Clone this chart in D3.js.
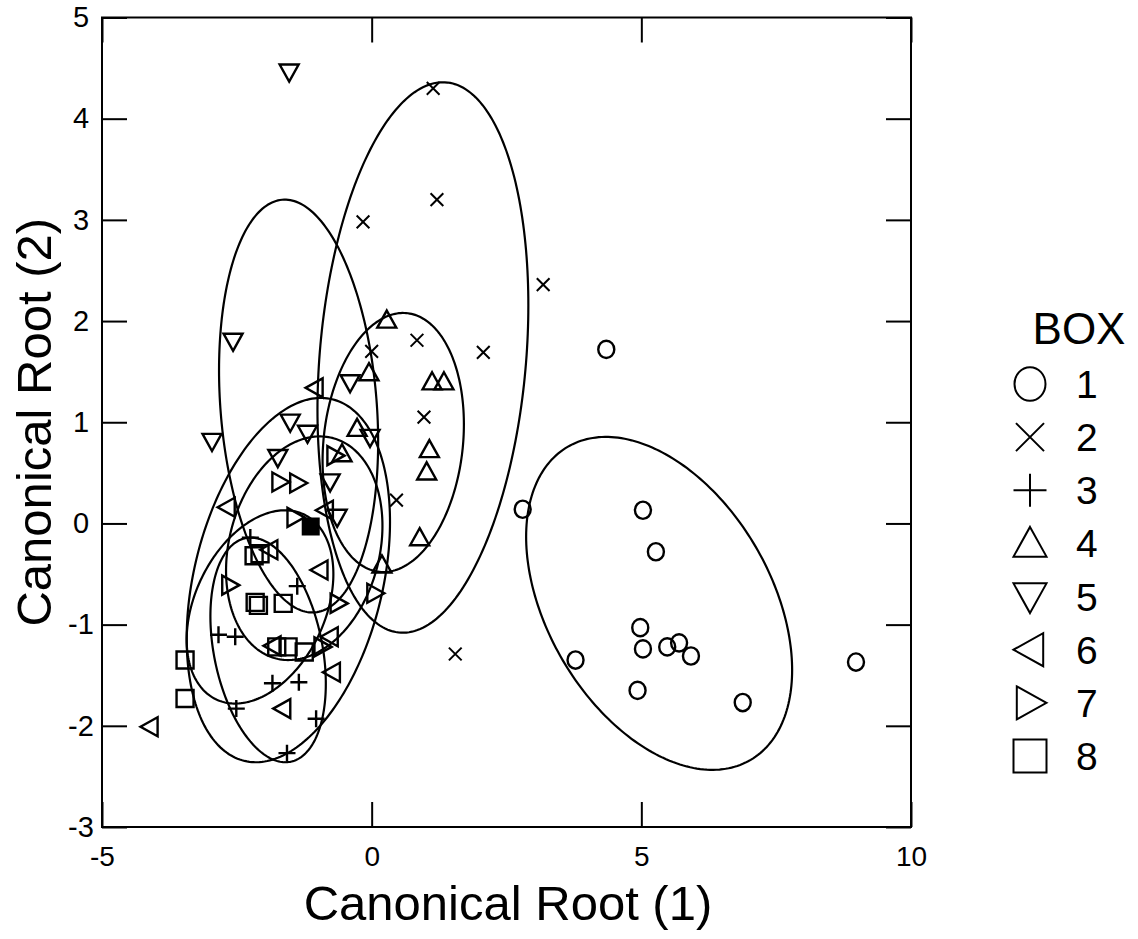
<!DOCTYPE html>
<html lang="en">
<head>
<meta charset="UTF-8">
<title>Canonical roots by box</title>
<style>
  body { margin: 0; background: #fff; }
  text { font-family: "Liberation Sans", Arial, Helvetica, sans-serif; fill: #000; }
  .frame { fill: none; stroke: #000; stroke-width: 2px; }
  .tick line { stroke: #000; stroke-width: 2px; }
  .ell { fill: none; stroke: #000; stroke-width: 2.2px; }
  .mark { fill: none; stroke: #000; stroke-width: 2.4px; }
  .dense { fill: #000; stroke: #000; stroke-width: 2px; }
</style>
</head>
<body>
<div id="chart"></div>
<script src="https://d3js.org/d3.v7.min.js"></script>
<script>
// points, one array per box  [root1, root2]
var box1 = [[4.35,1.72],[2.80,0.14],[5.03,0.13],[5.27,-0.28],[4.98,-1.03],[5.03,-1.24],[5.48,-1.22],
            [5.70,-1.18],[5.92,-1.31],[3.78,-1.35],[4.93,-1.65],[6.88,-1.77],[8.98,-1.37]];
var box2 = [[1.14,4.30],[1.21,3.20],[-0.16,2.98],[3.18,2.36],[0.84,1.81],[2.07,1.69],[0.00,1.70],
            [0.97,1.05],[0.46,0.23],[1.55,-1.29]];
var box3 = [[-2.25,-0.14],[-1.38,-0.62],[-2.84,-1.10],[-2.53,-1.12],[-1.84,-1.58],[-1.35,-1.57],
            [-2.51,-1.83],[-1.03,-1.93],[-1.57,-2.27]];
var box4 = [[0.28,2.01],[-0.05,1.49],[1.12,1.40],[1.34,1.40],[1.07,0.73],[1.02,0.51],[0.89,-0.14],
            [-0.27,0.94],[-0.55,0.69],[0.19,-0.41]];
var box5 = [[-1.53,4.46],[-2.57,1.80],[-2.96,0.81],[-0.40,1.39],[-1.51,1.00],[-1.19,0.89],[-1.74,0.65],
            [-0.77,0.41],[-0.64,0.06],[-0.03,0.85]];
var box6 = [[-1.05,1.34],[-2.68,0.16],[-0.86,0.13],[-1.89,-0.26],[-0.96,-0.46],[-0.77,-1.12],
            [-0.73,-1.47],[-1.65,-1.83],[-4.11,-2.01],[-1.83,-1.21]];
var box7 = [[-1.70,0.41],[-1.37,0.40],[-0.68,0.67],[-1.42,0.06],[-2.63,-0.61],[-0.62,-0.79],
            [-0.92,-1.22],[0.06,-0.69]];
var box8 = [[-2.18,-0.32],[-2.07,-0.30],[-2.16,-0.78],[-2.10,-0.81],[-1.64,-0.79],[-3.46,-1.35],
            [-3.46,-1.73],[-1.76,-1.22],[-1.55,-1.22],[-1.25,-1.27]];
// several boxes stacked on one spot, drawn as a solid block in the original
var stacked = [[-1.13,-0.03]];

// ellipses: centre, half width, half height, correlation (box 1..8)
var ellCx = [5.33, 0.95, -1.92, 0.40, -1.355, -1.545, -1.25, -2.07];
var ellCy = [-0.79, 1.64, -1.25, 0.80, 1.16, -0.56, -0.245, -0.825];
var ellSx = [2.466, 1.955, 1.07, 1.31, 1.475, 1.885, 1.45, 1.36];
var ellSy = [1.645, 2.72, 1.11, 1.28, 2.04, 1.80, 1.105, 0.955];
var ellR  = [-0.40, 0.19, -0.30, 0.14, -0.173, 0.32, 0.20, 0.34];

var boxes = ["1","2","3","4","5","6","7","8"];
var shapes = ["circle","x","plus","up","down","left","right","square"];
var xTicks = [-5, 0, 5, 10];
var yTicks = [-3, -2, -1, 0, 1, 2, 3, 4, 5];

var width = 1138, height = 939;
var plot = {left: 102, right: 911, top: 17.5, bottom: 827};

var svg = d3.select("#chart").append("svg")
    .attr("width", width)
    .attr("height", height);

var x = d3.scaleLinear().domain([-5, 10]).range([plot.left, plot.right]);
var y = d3.scaleLinear().domain([-3, 5]).range([plot.bottom, plot.top]);

// marker paths, s = overall size in px
function markerPath(shape, s) {
  var h = s / 2;
  switch (shape) {
    case "circle":
      return "M" + h + ",0A" + h + "," + (h * 1.08) + " 0 1,1 " + (-h) + ",0A" + h + "," + (h * 1.08) + " 0 1,1 " + h + ",0Z";
    case "x":
      var k = h * 0.85;
      return "M" + (-k) + "," + (-k) + "L" + k + "," + k + "M" + (-k) + "," + k + "L" + k + "," + (-k);
    case "plus":
      return "M" + (-h) + ",0L" + h + ",0M0," + (-h) + "L0," + h;
    case "up":
      return "M0," + (-h) + "L" + h + "," + (h * 0.8) + "L" + (-h) + "," + (h * 0.8) + "Z";
    case "down":
      return "M0," + h + "L" + h + "," + (-h * 0.8) + "L" + (-h) + "," + (-h * 0.8) + "Z";
    case "left":
      return "M" + (-h) + ",0L" + (h * 0.8) + "," + (-h) + "L" + (h * 0.8) + "," + h + "Z";
    case "right":
      return "M" + h + ",0L" + (-h * 0.8) + "," + (-h) + "L" + (-h * 0.8) + "," + h + "Z";
    case "square":
      return "M" + (-h) + "," + (-h) + "H" + h + "V" + h + "H" + (-h) + "Z";
  }
}
var markSize = {circle: 16, x: 15, plus: 17, up: 19, down: 19, left: 19, right: 19, square: 17};

// ellipses
var line = d3.line()
    .x(function(d) { return x(d[0]); })
    .y(function(d) { return y(d[1]); })
    .curve(d3.curveLinearClosed);

function ellipsePoints(i) {
  var pts = [];
  var q = Math.sqrt(1 - ellR[i] * ellR[i]);
  for (var k = 0; k < 240; k++) {
    var t = k / 240 * 2 * Math.PI;
    pts.push([ellCx[i] + ellSx[i] * Math.cos(t),
              ellCy[i] + ellSy[i] * (ellR[i] * Math.cos(t) + q * Math.sin(t))]);
  }
  return pts;
}

svg.append("g").selectAll("path")
    .data(d3.range(boxes.length))
    .enter().append("path")
    .attr("class", "ell")
    .attr("d", function(i) { return line(ellipsePoints(i)); });

// points
var groups = [box1, box2, box3, box4, box5, box6, box7, box8];
groups.forEach(function(pts, gi) {
  svg.append("g").selectAll("path")
      .data(pts)
      .enter().append("path")
      .attr("class", "mark")
      .style("stroke-width", shapes[gi] === "x" ? "2px" : null)
      .attr("transform", function(d) { return "translate(" + x(d[0]) + "," + y(d[1]) + ")"; })
      .attr("d", markerPath(shapes[gi], markSize[shapes[gi]]));
});

svg.append("g").selectAll("path")
    .data(stacked)
    .enter().append("path")
    .attr("class", "dense")
    .attr("transform", function(d) { return "translate(" + x(d[0]) + "," + y(d[1]) + ")"; })
    .attr("d", markerPath("square", 16));

// axes: inward ticks on all four sides
var fmt = function(d) { return String(d); };
var tick = 25;

svg.append("g")
    .attr("transform", "translate(" + plot.left + ",0)")
    .call(d3.axisLeft(y).tickValues(yTicks).tickSize(-tick).tickPadding(21).tickFormat(fmt))
    .call(function(g) { g.select(".domain").remove(); })
    .selectAll("text")
    .attr("text-anchor", "middle")
    .style("font-size", "29px");

svg.append("g")
    .attr("transform", "translate(" + plot.right + ",0)")
    .call(d3.axisRight(y).tickValues(yTicks).tickSize(-tick).tickFormat(""))
    .call(function(g) { g.select(".domain").remove(); });

svg.append("g")
    .attr("transform", "translate(0," + plot.bottom + ")")
    .call(d3.axisBottom(x).tickValues(xTicks).tickSize(-tick).tickPadding(19).tickFormat(fmt))
    .call(function(g) { g.select(".domain").remove(); })
    .selectAll("text").style("font-size", "28px");

svg.append("g")
    .attr("transform", "translate(0," + plot.top + ")")
    .call(d3.axisTop(x).tickValues(xTicks).tickSize(-tick).tickFormat(""))
    .call(function(g) { g.select(".domain").remove(); });

svg.append("rect")
    .attr("class", "frame")
    .attr("x", plot.left).attr("y", plot.top)
    .attr("width", plot.right - plot.left)
    .attr("height", plot.bottom - plot.top);

// axis titles
svg.append("text")
    .attr("x", 508)
    .attr("y", 920)
    .attr("text-anchor", "middle")
    .style("font-size", "49px")
    .text("Canonical Root (1)");

svg.append("text")
    .attr("transform", "translate(51," + (plot.top + plot.bottom) / 2 + ") rotate(-90)")
    .attr("text-anchor", "middle")
    .style("font-size", "49px")
    .text("Canonical Root (2)");

// legend
var legend = svg.append("g");
legend.append("text")
    .attr("x", 1079).attr("y", 344)
    .attr("text-anchor", "middle")
    .style("font-size", "44px")
    .text("BOX");

var rowY = d3.scalePoint().domain(boxes).range([384, 756]);
var item = legend.selectAll(".item")
    .data(boxes)
    .enter().append("g")
    .attr("class", "item")
    .attr("transform", function(d) { return "translate(0," + rowY(d) + ")"; });

item.append("path")
    .attr("class", "mark")
    .style("stroke-width", "2px")
    .attr("transform", "translate(1030,0)")
    .attr("d", function(d, i) { return markerPath(shapes[i], i === 0 ? 31 : 33); });

item.append("text")
    .attr("x", 1076)
    .attr("dy", "0.36em")
    .style("font-size", "39px")
    .text(function(d) { return d; });
</script>
</body>
</html>
